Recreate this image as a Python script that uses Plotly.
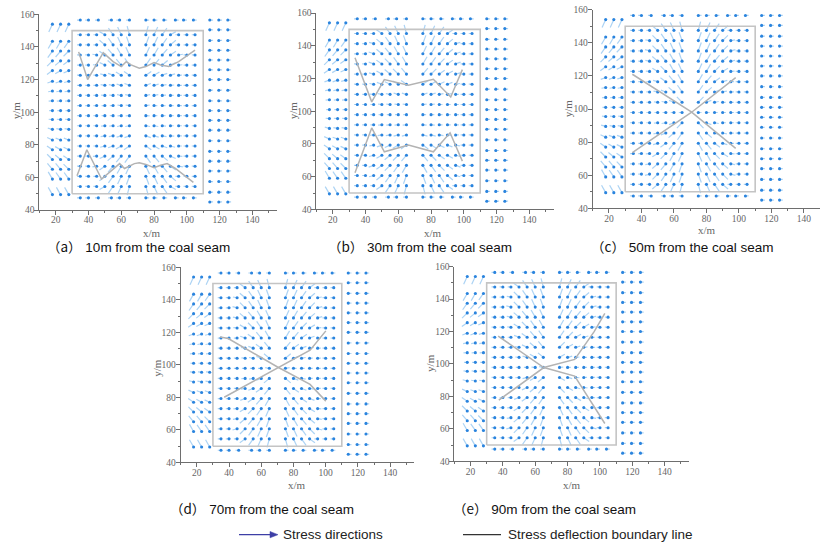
import math
import plotly.graph_objects as go

W, H = 820, 546

# ---------------- grid positions (data units, metres) ----------------
inner_x = [35, 40, 45, 50, 55, 60, 65, 75, 80, 85, 90, 95, 100, 105]
inner_y = [147.5, 141.3, 135.1, 128.9, 122.7, 116.5, 110.3, 104.1,
           97.9, 91.7, 85.5, 79.3, 73.1, 66.9, 60.7, 54.5]
edge_x = [35, 40, 46, 54, 59, 65, 75, 80, 86, 93, 98, 104]
top_y = 156.5
bottom_y = 47.5
top_angles = [0, 0, 0, 0, 0, 0, 180, 180, 180, 180, 180, 180]
bottom_angles = [0, 0, 0, 0, 0, 0, 180, 180, 180, 180, 180, 180]

left_x = [18, 23, 28]
left_y = [154, 143.5, 137.5, 131.5, 125.5, 119, 113, 107, 101, 95.5,
          89.5, 83, 77, 71, 65, 59, 49.5]
left_angles = [
    [65, 65, 65], [60, 60, 55], [55, 50, 45], [45, 40, 35], [35, 30, 25],
    [20, 20, 15], [10, 10, 10], [5, 5, 5], [0, 0, 0], [-5, -5, -5],
    [-15, -10, -10], [-25, -20, -20], [-35, -30, -25], [-45, -40, -35],
    [-50, -50, -45], [-60, -55, -55], [-60, -60, -60],
]

right_x = [114, 119.5, 125]
right_y = [156.5, 150.5, 144, 138, 132, 126, 120, 113.5, 107, 101, 95,
           89, 82.5, 76, 70, 64, 57.5, 51, 45]
right_angles = [180, 180, 180, 180, 180, 180, 180, 180, 180, 180, 180,
                180, 180, 180, 180, 180, 180, 180, 180]

box_x = [30, 110, 110, 30, 30]
box_y = [50, 50, 150, 150, 50]

# inner stress direction angles (deg), rows top -> bottom, cols = inner_x
inner_a = [
    [0, 0, 0, -30, -55, -65, -75, -105, -115, -125, -150, 0, 0, 0],
    [0, 0, 0, -40, -55, -65, -70, -110, -115, -125, -140, 0, 0, 0],
    [0, 0, -10, -35, -50, -60, -65, -115, -120, -130, -145, -170, 0, 0],
    [0, 0, -5, -25, -40, -50, -55, -125, -130, -140, -155, -175, 0, 0],
    [0, 0, 0, -15, -20, -30, -35, -145, -150, -160, -165, 180, 0, 0],
    [0, 0, 0, -10, -10, -15, -20, -160, -165, -170, -175, 180, 0, 0],
    [0, 0, 0, -5, -5, -10, -10, -170, -170, -175, 180, 180, 0, 0],
    [0, 0, 0, 0, 0, -5, -5, -175, 180, 180, 180, 180, 0, 0],
    [0, 0, 0, 0, 0, 5, 5, 175, 180, 180, 180, 180, 0, 0],
    [0, 0, 0, 5, 5, 10, 10, 170, 170, 175, 180, 180, 0, 0],
    [0, 0, 0, 10, 10, 15, 20, 160, 165, 170, 175, 180, 0, 0],
    [0, 0, 0, 15, 20, 30, 35, 145, 150, 160, 165, 180, 0, 0],
    [0, 0, 5, 25, 40, 50, 55, 125, 130, 140, 155, 175, 0, 0],
    [0, 0, 10, 35, 50, 60, 65, 115, 120, 130, 145, 170, 0, 0],
    [0, 0, 0, 40, 55, 65, 70, 110, 115, 125, 140, 0, 0, 0],
    [0, 0, 0, 30, 55, 65, 75, 105, 115, 125, 150, 0, 0, 0],
]
inner_b = [
    [0, 0, 0, -35, -55, -65, -75, -105, -115, -125, -145, 0, 0, 0],
    [0, 0, -15, -40, -55, -65, -70, -110, -115, -125, -140, -165, 0, 0],
    [0, 0, -20, -40, -50, -60, -65, -115, -120, -130, -140, -160, 0, 0],
    [0, 0, -20, -35, -45, -55, -60, -120, -125, -135, -145, -160, 0, 0],
    [0, 0, -15, -30, -40, -45, -50, -130, -135, -145, -150, -165, 0, 0],
    [0, 0, -10, -20, -25, -30, -35, -145, -150, -155, -160, -170, 0, 0],
    [0, 0, -5, -10, -10, -15, -15, -165, -165, -170, -170, 180, 0, 0],
    [0, 0, 0, -5, -5, -5, -5, -175, -175, 180, 180, 180, 0, 0],
    [0, 0, 0, 0, 0, 0, 0, 180, 180, 180, 180, 180, 0, 0],
    [0, 0, 0, 5, 5, 5, 5, 175, 175, 180, 180, 180, 0, 0],
    [0, 0, 5, 10, 10, 15, 15, 165, 165, 170, 170, 180, 0, 0],
    [0, 0, 10, 20, 25, 30, 35, 145, 150, 155, 160, 170, 0, 0],
    [0, 0, 15, 30, 40, 45, 50, 130, 135, 145, 150, 165, 0, 0],
    [0, 0, 20, 35, 45, 55, 60, 120, 125, 135, 145, 160, 0, 0],
    [0, 0, 15, 40, 55, 65, 70, 110, 115, 125, 140, 165, 0, 0],
    [0, 0, 0, 35, 55, 65, 75, 105, 115, 125, 145, 0, 0, 0],
]
inner_c = [
    [0, 0, 0, -40, -55, -65, -75, -105, -115, -125, -140, 0, 0, 0],
    [0, 0, -10, -45, -55, -65, -70, -110, -115, -125, -135, -170, 0, 0],
    [0, 0, -15, -45, -55, -65, -70, -110, -115, -125, -135, -165, 0, 0],
    [0, 0, -10, -40, -50, -60, -70, -110, -120, -130, -140, -170, 0, 0],
    [0, 0, -5, -30, -45, -60, -65, -115, -120, -135, -150, -175, 0, 0],
    [0, 0, 0, -15, -35, -50, -60, -120, -130, -145, -165, 180, 0, 0],
    [0, 0, 0, -10, -20, -40, -55, -125, -140, -160, -170, 180, 0, 0],
    [0, 0, 0, -5, -10, -20, -45, -135, -160, -170, 180, 180, 0, 0],
    [0, 0, 0, 0, 0, 0, 0, 180, 180, 180, 180, 180, 0, 0],
    [0, 0, 0, 5, 10, 20, 45, 135, 160, 170, 180, 180, 0, 0],
    [0, 0, 0, 10, 20, 40, 55, 125, 140, 160, 170, 180, 0, 0],
    [0, 0, 0, 15, 35, 50, 60, 120, 130, 145, 165, 180, 0, 0],
    [0, 0, 5, 30, 45, 60, 65, 115, 120, 135, 150, 175, 0, 0],
    [0, 0, 10, 40, 50, 60, 70, 110, 120, 130, 140, 170, 0, 0],
    [0, 0, 15, 45, 55, 65, 70, 110, 115, 125, 135, 165, 0, 0],
    [0, 0, 0, 40, 55, 65, 75, 105, 115, 125, 140, 0, 0, 0],
]
inner_d = [
    [0, 0, 0, -35, -55, -65, -75, -105, -115, -125, -145, 0, 0, 0],
    [0, 0, -10, -40, -55, -65, -70, -110, -115, -125, -140, -170, 0, 0],
    [0, 0, -15, -45, -55, -65, -70, -110, -115, -125, -135, -165, 0, 0],
    [0, 0, -10, -40, -50, -60, -65, -115, -120, -130, -140, -165, 0, 0],
    [0, 0, -5, -30, -45, -55, -65, -115, -125, -135, -150, -175, 0, 0],
    [0, 0, 0, -20, -35, -50, -60, -120, -130, -145, -160, 180, 0, 0],
    [0, 0, 0, -10, -20, -35, -50, -130, -145, -160, -170, 180, 0, 0],
    [0, 0, 0, -5, -10, -20, -40, -140, -160, -170, 180, 180, 0, 0],
    [0, 0, 0, 0, 0, 0, -10, -170, 180, 180, 180, 180, 0, 0],
    [0, 0, 0, 5, 10, 20, 40, 140, 160, 170, 180, 180, 0, 0],
    [0, 0, 0, 10, 20, 35, 50, 130, 145, 160, 170, 180, 0, 0],
    [0, 0, 0, 20, 35, 50, 60, 120, 130, 145, 160, 180, 0, 0],
    [0, 0, 5, 30, 45, 55, 65, 115, 125, 135, 150, 175, 0, 0],
    [0, 0, 10, 40, 50, 60, 70, 110, 120, 130, 140, 170, 0, 0],
    [0, 0, 15, 45, 55, 65, 70, 110, 115, 125, 135, 165, 0, 0],
    [0, 0, 0, 35, 55, 65, 75, 105, 115, 125, 145, 0, 0, 0],
]
inner_e = [
    [0, 0, 0, -35, -55, -65, -75, -105, -115, -125, -145, 0, 0, 0],
    [0, 0, -10, -45, -55, -65, -70, -110, -115, -125, -140, -170, 0, 0],
    [0, 0, -15, -45, -55, -65, -70, -110, -115, -125, -135, -165, 0, 0],
    [0, 0, -10, -40, -50, -60, -65, -115, -120, -130, -140, -170, 0, 0],
    [0, 0, -5, -30, -45, -55, -60, -120, -125, -135, -150, -175, 0, 0],
    [0, 0, 0, -20, -35, -50, -55, -125, -135, -150, -165, 180, 0, 0],
    [0, 0, 0, -10, -25, -40, -50, -135, -150, -165, -175, 180, 0, 0],
    [0, 0, 0, -5, -15, -30, -40, -150, -165, -175, 180, 180, 0, 0],
    [0, 0, 0, 0, 0, -5, -10, -175, 180, 180, 180, 180, 0, 0],
    [0, 0, 0, 5, 15, 30, 40, 150, 165, 175, 180, 180, 0, 0],
    [0, 0, 0, 10, 25, 40, 50, 135, 150, 165, 175, 180, 0, 0],
    [0, 0, 0, 20, 35, 50, 55, 125, 135, 150, 165, 180, 0, 0],
    [0, 0, 5, 30, 45, 55, 65, 115, 125, 135, 150, 175, 0, 0],
    [0, 0, 10, 40, 50, 60, 70, 110, 120, 130, 140, 170, 0, 0],
    [0, 0, 15, 45, 55, 65, 70, 110, 115, 125, 135, 165, 0, 0],
    [0, 0, 0, 35, 55, 65, 75, 105, 115, 125, 145, 0, 0, 0],
]

# stress deflection boundary lines (x list, y list) per panel
lines_a = [
    ([34, 39.5, 49, 55, 60, 63, 66, 71, 75, 80, 84, 89, 95, 105],
     [137, 120, 136.5, 131, 128, 131, 129, 127, 128, 130.5, 129, 128, 131, 138]),
    ([33, 39, 48, 54, 59, 62, 68, 71, 75, 80, 84, 88, 93, 104],
     [61, 77, 59, 64.5, 68.5, 65.5, 68.5, 69, 68, 66, 67.5, 68.5, 65.5, 57]),
]
lines_b = [
    ([33.6, 43.8, 51.5, 66.2, 81.4, 92, 99.1],
     [132.7, 105.7, 119.3, 115.9, 119.5, 108.7, 125.4]),
    ([33.6, 43.8, 51.5, 66.2, 81.4, 91.6, 99.1],
     [62.4, 89.8, 75.2, 79.3, 75.2, 86.8, 69.5]),
]
lines_c = [
    ([34.4, 70.7, 98], [121, 98.3, 76.2]),
    ([34.4, 70.7, 98], [73.6, 97.9, 119]),
]
lines_d = [
    ([34.5, 39.5, 70.1, 90.3, 100.1], [117.2, 116.2, 98.7, 88, 77.7]),
    ([37, 70.1, 90.3, 100.1], [80.1, 98.2, 109, 120.9]),
]
lines_e = [
    ([37.1, 65.3, 84.4, 96.4, 103], [117.2, 97.8, 92.5, 74.2, 63.3]),
    ([37.5, 65.3, 84.4, 96.4, 103], [77.7, 97.8, 102.8, 119.9, 131.2]),
]

caption_tags = ["a", "b", "c", "d", "e"]
caption_texts = [
    "10m from the coal seam",
    "30m from the coal seam",
    "50m from the coal seam",
    "70m from the coal seam",
    "90m from the coal seam",
]
x_ticks = [20, 40, 60, 80, 100, 120, 140]
y_ticks = [40, 60, 80, 100, 120, 140, 160]

# ---------------- layout (page-pixel geometry of each panel) ----------------
panels = [
    dict(inner=inner_a, lines=lines_a, px=(39.3, 277.0), py=(14.0, 210.0), xr=(10, 155),
         cap=(138, 246), xl=(152, 233), yl=(16, 110)),
    dict(inner=inner_b, lines=lines_b, px=(316.3, 554.0), py=(12.7, 209.3), xr=(10, 155),
         cap=(420, 246), xl=(433, 233), yl=(293, 110)),
    dict(inner=inner_c, lines=lines_c, px=(592.7, 820.0), py=(9.3, 208.3), xr=(10, 149.9),
         cap=(682, 246), xl=(707, 230), yl=(568, 108)),
    dict(inner=inner_d, lines=lines_d, px=(180.7, 414.3), py=(267.3, 462.7), xr=(10, 155),
         cap=(262, 508), xl=(297, 485), yl=(157, 368)),
    dict(inner=inner_e, lines=lines_e, px=(454.3, 689.0), py=(266.7, 461.5), xr=(10, 155),
         cap=(544, 508), xl=(572, 485), yl=(430, 363)),
]

VS = 0.983  # vertical correction for the rendered page


def fx(px):
    return px / W


def fy(py):
    return 1 - (H / 2 + (py - H / 2) / VS) / H


TAIL = "#acd3f4"
HEAD = "#2a84de"
AXC = "#6e6e6e"
SERIF = "Liberation Serif, Times New Roman, serif"
SANS = "Liberation Sans, Arial, sans-serif"
CJK = "Noto Sans CJK SC"

fig = go.Figure()


def arrows(xs, ys, angs):
    tx, ty = [], []
    for x, y, a in zip(xs, ys, angs):
        r = math.radians(a)
        L = 2.0 + 3.6 * abs(math.sin(r))
        tx += [x - L * math.cos(r), x, None]
        ty += [y - L * math.sin(r), y, None]
    return tx, ty


annotations = []
for i, p in enumerate(panels):
    n = "" if i == 0 else str(i + 1)
    xs, ys, ang = [], [], []
    for r, yv in enumerate(inner_y):
        for c, xv in enumerate(inner_x):
            xs.append(xv); ys.append(yv); ang.append(p["inner"][r][c])
    for c, xv in enumerate(edge_x):
        xs += [xv, xv]; ys += [top_y, bottom_y]; ang += [top_angles[c], bottom_angles[c]]
    for r, yv in enumerate(left_y):
        for c, xv in enumerate(left_x):
            xs.append(xv); ys.append(yv); ang.append(left_angles[r][c])
    for r, yv in enumerate(right_y):
        for c, xv in enumerate(right_x):
            xs.append(xv); ys.append(yv); ang.append(right_angles[r])
    tx, ty = arrows(xs, ys, ang)
    xa, ya = "x" + n, "y" + n
    fig.add_trace(go.Scatter(x=tx, y=ty, mode="lines", xaxis=xa, yaxis=ya,
                             line=dict(color=TAIL, width=1.2), hoverinfo="skip",
                             showlegend=False))
    fig.add_trace(go.Scatter(x=xs, y=ys, mode="markers", xaxis=xa, yaxis=ya,
                             marker=dict(color=HEAD, size=3.1), hoverinfo="skip",
                             showlegend=False))
    fig.add_trace(go.Scatter(x=box_x, y=box_y, mode="lines", xaxis=xa, yaxis=ya,
                             line=dict(color="#c4c4c4", width=1.6), hoverinfo="skip",
                             showlegend=False))
    for lx, ly in p["lines"]:
        fig.add_trace(go.Scatter(x=lx, y=ly, mode="lines", xaxis=xa, yaxis=ya,
                                 line=dict(color="#b3b3b3", width=1.5), hoverinfo="skip",
                                 showlegend=False))
    x0, x1 = p["px"]; y0, y1 = p["py"]
    common = dict(showline=True, linecolor=AXC, linewidth=1, ticks="outside", ticklen=4,
                  tickcolor=AXC, tickfont=dict(family=SERIF, size=9.5, color="#666"),
                  showgrid=False, zeroline=False, fixedrange=True,
                  minor=dict(ticks="outside", ticklen=2, dtick=10, tick0=0, tickcolor=AXC))
    fig.update_layout(**{
        "xaxis" + n: dict(domain=[fx(x0), fx(x1)], range=list(p["xr"]), tickvals=x_ticks,
                          anchor=ya, ticklabelstandoff=-3, **common),
        "yaxis" + n: dict(domain=[fy(y1), fy(y0)], range=[40, 160], tickvals=y_ticks,
                          anchor=xa, ticklabelstandoff=-2, **common),
    })
    cap = (f'<span style="font-family:{CJK}">（{caption_tags[i]}）</span>'
           f' {caption_texts[i]}')
    annotations.append(dict(text=cap, x=fx(p["cap"][0]), y=fy(p["cap"][1]),
                            xref="paper", yref="paper", showarrow=False,
                            font=dict(family=SANS, size=13.5, color="#111"),
                            xanchor="center", yanchor="middle"))
    annotations.append(dict(text="x/m", x=fx(p["xl"][0]), y=fy(p["xl"][1]),
                            xref="paper", yref="paper", showarrow=False,
                            font=dict(family=SERIF, size=11, color="#666"),
                            xanchor="center", yanchor="middle"))
    annotations.append(dict(text="y/m", x=fx(p["yl"][0]), y=fy(p["yl"][1]),
                            xref="paper", yref="paper", showarrow=False, textangle=-90,
                            font=dict(family=SERIF, size=11, color="#666"),
                            xanchor="center", yanchor="middle"))

# legend (bottom)
legend_y = 535
annotations.append(dict(text="Stress directions", x=fx(281), y=fy(legend_y),
                        xref="paper", yref="paper", showarrow=False, xanchor="left",
                        yanchor="middle", font=dict(family=SANS, size=13.5, color="#222")))
annotations.append(dict(text="Stress deflection boundary line", x=fx(506), y=fy(legend_y),
                        xref="paper", yref="paper", showarrow=False, xanchor="left",
                        yanchor="middle", font=dict(family=SANS, size=13.5, color="#222")))
shapes = [
    dict(type="line", xref="paper", yref="paper", x0=fx(239), x1=fx(272),
         y0=fy(legend_y), y1=fy(legend_y), line=dict(color="#3d3fa6", width=1.2)),
    dict(type="path", xref="paper", yref="paper",
         path=(f"M {fx(270)} {fy(legend_y - 3.2)} L {fx(278)} {fy(legend_y)} "
               f"L {fx(270)} {fy(legend_y + 3.2)} Z"),
         fillcolor="#3d3fa6", line=dict(color="#3d3fa6", width=0.5)),
    dict(type="line", xref="paper", yref="paper", x0=fx(463), x1=fx(501),
         y0=fy(legend_y), y1=fy(legend_y), line=dict(color="#333", width=1.2)),
]

fig.update_layout(width=W, height=H, margin=dict(l=0, r=0, t=0, b=0),
                  paper_bgcolor="white", plot_bgcolor="white",
                  annotations=annotations, shapes=shapes, showlegend=False)

fig.write_html(
    "out.html",
    config={"displayModeBar": False, "staticPlot": True},
    post_script=("document.body.style.margin='0';"
                 "document.body.style.overflow='hidden';"
                 "document.documentElement.style.overflow='hidden';"),
)
